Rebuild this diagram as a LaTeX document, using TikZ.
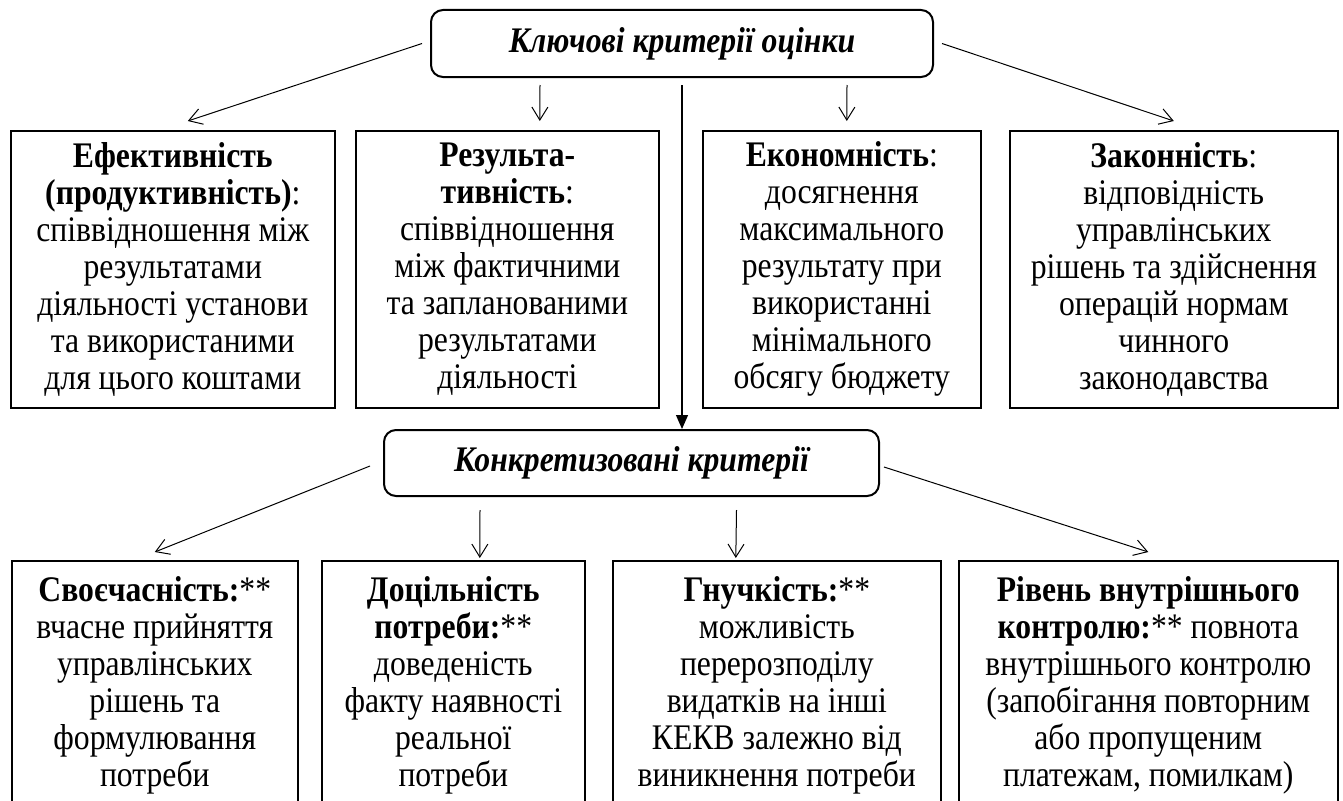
\documentclass[tikz,border=0pt]{standalone}
\usepackage{fontspec}
\setmainfont{Liberation Serif}[FakeStretch=0.88]
\usetikzlibrary{arrows.meta,calc}
\begin{document}
\begin{tikzpicture}[x=1pt,y=-1pt,
  box/.style={draw, line width=1.6pt, inner sep=0pt, align=center, font=\fontsize{36}{37}\selectfont, anchor=north west},
  head/.style={draw, line width=2pt, rounded corners=12pt, inner sep=0pt, font=\fontsize{36}{38}\selectfont\bfseries\itshape, anchor=north west},
  arr/.style={line width=1pt, -{Straight Barb[length=13pt,width=16pt]}},
  arrf/.style={line width=1.2pt, -{Triangle[length=14pt,width=12pt]}}]
\useasboundingbox (0,0) rectangle (1343,800);
\clip (0,0) rectangle (1343,800);
\node[head, minimum width=502pt, minimum height=67pt] (top) at (430,9) {Ключові критерії оцінки};
\node[box, minimum width=324pt, minimum height=277pt] (b1) at (10,130) {{\bfseries Ефективність}\\{\bfseries (продуктивність)}:\\співвідношення між\\результатами\\діяльності установи\\та використаними\\для цього коштами};
\node[box, minimum width=303pt, minimum height=277pt] (b2) at (355,130) {{\bfseries Результа-}\\{\bfseries тивність}:\\співвідношення\\між фактичними\\та запланованими\\результатами\\діяльності};
\node[box, minimum width=278pt, minimum height=277pt] (b3) at (702,130) {{\bfseries Економність}:\\досягнення\\максимального\\результату при\\використанні\\мінімального\\обсягу бюджету};
\node[box, minimum width=328pt, minimum height=277pt] (b4) at (1009,130) {{\bfseries Законність}:\\відповідність\\управлінських\\рішень та здійснення\\операцій нормам\\чинного\\законодавства};
\node[head, minimum width=495pt, minimum height=66pt] (bb) at (383,429) {Конкретизовані критерії};
\node[box, minimum width=286pt, minimum height=250pt] (c1) at (11,560) {{\bfseries Своєчасність:}**\\вчасне прийняття\\управлінських\\рішень та\\формулювання\\потреби};
\node[box, minimum width=263pt, minimum height=250pt] (c2) at (321,560) {{\bfseries Доцільність}\\{\bfseries потреби:}**\\доведеність\\факту наявності\\реальної\\потреби};
\node[box, minimum width=328pt, minimum height=250pt] (c3) at (612,560) {{\bfseries Гнучкість:}**\\можливість\\перерозподілу\\видатків на інші\\КЕКВ залежно від\\виникнення потреби};
\node[box, minimum width=379pt, minimum height=250pt] (c4) at (958,560) {{\bfseries Рівень внутрішнього}\\{\bfseries контролю:}** повнота\\внутрішнього контролю\\(запобігання повторним\\або пропущеним\\платежам, помилкам)};
\draw[arr] ([xshift=-8pt]top.west) -- ([xshift=15pt,yshift=9pt]b1.north);
\draw[arr] ([xshift=-142pt,yshift=-7pt]top.south) -- ([xshift=32.5pt,yshift=9pt]b2.north);
\draw[arr] ([xshift=165pt,yshift=-7pt]top.south) -- ([xshift=5pt,yshift=9pt]b3.north);
\draw[arr] ([xshift=8pt]top.east) -- ([yshift=9pt]b4.north);
\draw[arrf] ([yshift=-7pt]top.south) -- (top.south |- bb.north);
\draw[arr] ([xshift=-13pt,yshift=-3pt]bb.west) -- ([yshift=8pt]c1.north);
\draw[arr] ([xshift=-151.5pt,yshift=-13pt]bb.south) -- ([xshift=26.5pt,yshift=2pt]c2.north);
\draw[arr] ([xshift=105pt,yshift=-13pt]bb.south) -- ([xshift=-41pt,yshift=2pt]c3.north);
\draw[arr] ([xshift=4pt,yshift=-4pt]bb.east) -- ([yshift=8pt]c4.north);
\end{tikzpicture}
\end{document}
